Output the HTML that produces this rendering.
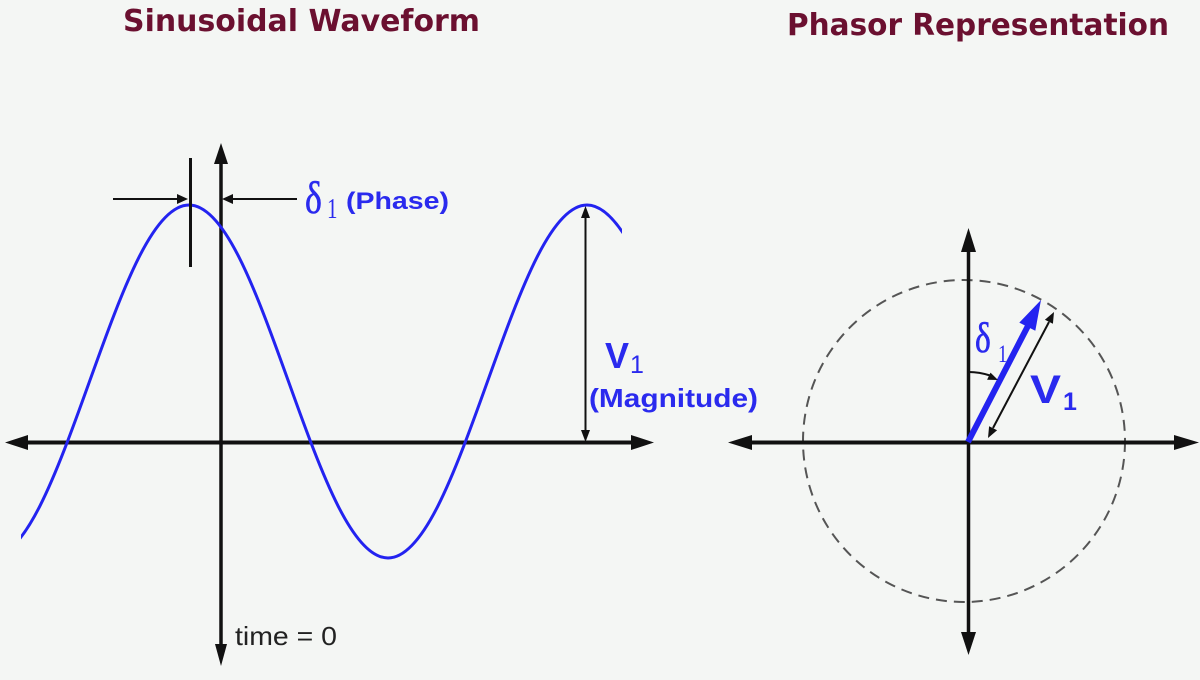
<!DOCTYPE html>
<html><head><meta charset="utf-8"><style>
html,body{margin:0;padding:0;background:#f4f6f4;}
svg{display:block;}
</style></head><body>
<svg width="1200" height="680" viewBox="0 0 1200 680" xmlns="http://www.w3.org/2000/svg">
<defs>
<clipPath id="sc"><rect x="21" y="0" width="601" height="680"/></clipPath>
</defs>
<rect width="1200" height="680" fill="#f4f6f4"/>
<!-- Titles -->
<text x="123" y="31" font-family="DejaVu Sans, Liberation Sans, sans-serif" font-weight="bold" font-size="30" fill="#6b1030" textLength="357" lengthAdjust="spacingAndGlyphs">Sinusoidal Waveform</text>
<text x="787" y="35" font-family="DejaVu Sans, Liberation Sans, sans-serif" font-weight="bold" font-size="30" fill="#6b1030" textLength="382" lengthAdjust="spacingAndGlyphs">Phasor Representation</text>

<!-- LEFT: axes -->
<line x1="22" y1="442.5" x2="636" y2="442.5" stroke="#111" stroke-width="4"/>
<polygon points="5,442.5 28,435 28,450" fill="#111"/>
<polygon points="654,442.5 631,435 631,450" fill="#111"/>
<line x1="221" y1="160" x2="221" y2="648" stroke="#111" stroke-width="3.5"/>
<polygon points="221,143 214,164 228,164" fill="#111"/>
<polygon points="221,666 215,644 227,644" fill="#111"/>

<!-- sine -->
<path clip-path="url(#sc)" fill="none" stroke="#2323f0" stroke-width="3" d="M-10,558 C6.583,558 23.167,538.974 39.75,506.30 C56.333,473.626 72.917,427.708 89.5,381.5 C106.083,335.292 122.667,289.374 139.25,256.70 C155.833,224.026 172.417,205 189,205 C205.583,205 222.167,224.026 238.75,256.70 C255.333,289.374 271.917,335.292 288.5,381.5 C305.083,427.708 321.667,473.626 338.25,506.30 C354.833,538.974 371.417,558 388,558 C404.583,558 421.167,538.974 437.75,506.30 C454.333,473.626 470.917,427.708 487.5,381.5 C504.083,335.292 520.667,289.374 537.25,256.70 C553.833,224.026 570.417,205 587,205 C603.583,205 620.167,224.026 636.75,256.70"/>

<!-- phase marker -->
<line x1="190.5" y1="158" x2="190.5" y2="267" stroke="#111" stroke-width="3"/>
<line x1="113" y1="199" x2="180" y2="199" stroke="#111" stroke-width="2"/>
<polygon points="188,199 177,194 177,204" fill="#111"/>
<line x1="297" y1="199" x2="230" y2="199" stroke="#111" stroke-width="2"/>
<polygon points="222,199 233,194 233,204" fill="#111"/>
<text x="305" y="213" font-family="Liberation Serif, serif" font-size="46" fill="#2a2aee" stroke="#2a2aee" stroke-width="0.6" transform="translate(305,0) scale(0.78,1) translate(-305,0)">δ</text>
<text x="327" y="218" font-family="Liberation Serif, serif" font-size="28" fill="#2a2aee" transform="translate(327,0) scale(0.75,1) translate(-327,0)">1</text>
<text x="346" y="209" font-family="Liberation Sans, sans-serif" font-weight="bold" font-size="24" fill="#2a2aee" textLength="103" lengthAdjust="spacingAndGlyphs">(Phase)</text>

<!-- magnitude -->
<line x1="585.5" y1="215" x2="585.5" y2="434" stroke="#111" stroke-width="2"/>
<polygon points="585.5,206 581,218 590,218" fill="#111"/>
<polygon points="585.5,442 581,430 590,430" fill="#111"/>
<text x="605" y="368" font-family="Liberation Sans, sans-serif" font-weight="bold" font-size="36" fill="#2a2aee">V</text>
<text x="630" y="373" font-family="Liberation Sans, sans-serif" font-size="25" fill="#2a2aee">1</text>
<text x="589" y="407" font-family="Liberation Sans, sans-serif" font-weight="bold" font-size="26" fill="#2a2aee" textLength="169" lengthAdjust="spacingAndGlyphs">(Magnitude)</text>

<text x="235" y="645" font-family="Liberation Sans, sans-serif" font-size="26" fill="#222" textLength="102" lengthAdjust="spacingAndGlyphs">time = 0</text>

<!-- RIGHT: phasor -->
<circle cx="964" cy="441" r="161" fill="none" stroke="#555" stroke-width="2" stroke-dasharray="11 7"/>
<line x1="750" y1="442.5" x2="1176" y2="442.5" stroke="#111" stroke-width="4"/>
<polygon points="728,442.5 752,435 752,450" fill="#111"/>
<polygon points="1199,442.5 1174,435 1174,450" fill="#111"/>
<line x1="968.5" y1="250" x2="968.5" y2="635" stroke="#111" stroke-width="3.5"/>
<polygon points="968.5,228 961,252 976,252" fill="#111"/>
<polygon points="968.5,655 961,632 976,632" fill="#111"/>

<!-- blue phasor -->
<line x1="968" y1="442" x2="1030" y2="322" stroke="#2323f0" stroke-width="6"/>
<polygon points="1041,300 1035.3,330.8 1019.3,322.6" fill="#2323f0"/>

<!-- black magnitude double arrow -->
<line x1="993" y1="428" x2="1049" y2="322" stroke="#111" stroke-width="2"/>
<polygon points="1054,312 1052.9,323.8 1044.9,319.7" fill="#111"/>
<polygon points="988,438 997.1,430.3 989.1,426.2" fill="#111"/>

<!-- angle arc -->
<path d="M968.5,372 A70,70 0 0 1 990,375.5" fill="none" stroke="#111" stroke-width="2"/>
<polygon points="998,380 987.1,379.8 990.5,372.6" fill="#111"/>

<text x="975" y="352" font-family="Liberation Serif, serif" font-size="42" fill="#2a2aee" stroke="#2a2aee" stroke-width="0.6" transform="translate(975,0) scale(0.8,1) translate(-975,0)">δ</text>
<text x="998" y="362" font-family="Liberation Serif, serif" font-size="25" fill="#2a2aee" transform="translate(998,0) scale(0.75,1) translate(-998,0)">1</text>
<text x="1030" y="403" font-family="Liberation Sans, sans-serif" font-weight="bold" font-size="40" fill="#2a2aee" textLength="31" lengthAdjust="spacingAndGlyphs">V</text>
<text x="1063" y="410" font-family="Liberation Sans, sans-serif" font-weight="bold" font-size="25" fill="#2a2aee">1</text>
</svg>
</body></html>
